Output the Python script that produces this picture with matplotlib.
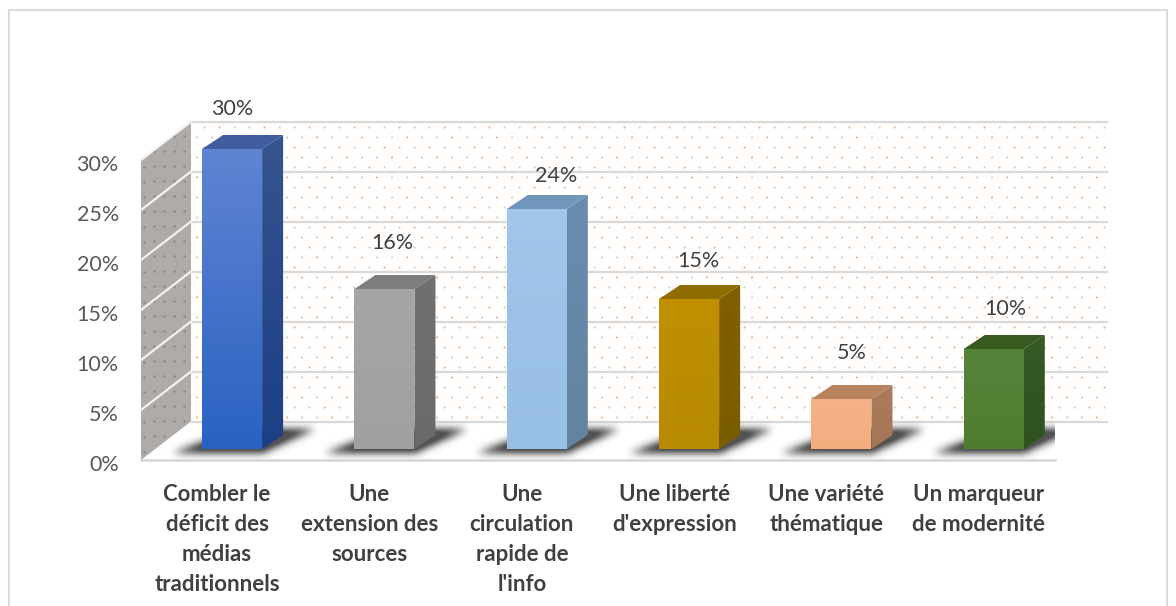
import numpy as np
import matplotlib
matplotlib.use('Agg')
import matplotlib.pyplot as plt
from matplotlib.colors import LinearSegmentedColormap
from matplotlib.patches import Polygon, Rectangle
from matplotlib.transforms import ScaledTranslation

# ---- data ----
categories = ["Combler le\ndéficit des\nmédias\ntraditionnels",
              "Une\nextension des\nsources",
              "Une\ncirculation\nrapide de\nl'info",
              "Une liberté\nd'expression",
              "Une variété\nthématique",
              "Un marqueur\nde modernité"]
values = [30, 16, 24, 15, 5, 10]
tick_values = [0, 5, 10, 15, 20, 25, 30]

# front / side / top colours per bar, (top of gradient, bottom of gradient)
front_colors = [('#5f84d2', '#2a62c2'), ('#a6a6a6', '#a0a0a0'), ('#a0c6ea', '#98bfe4'),
                ('#c09000', '#b88a00'), ('#f5b286', '#f3ae80'), ('#55833a', '#4f7d30')]
side_colors = [('#34558f', '#1c3f86'), ('#707070', '#6a6a6a'), ('#6a8cb0', '#62849f'),
               ('#806000', '#7a5c00'), ('#aa7c5c', '#a67656'), ('#355a24', '#2f5220')]
top_colors = ['#3f5d9f', '#7d7d7d', '#7196bb', '#8f6c00', '#b8845f', '#38591f']
# nudges of the value labels, in data units, from the centre of the bar top
label_dx = [-0.07, -0.02, 0.055, -0.01, 0.0, 0.01]
label_dy = [2.6, 3.2, 1.9, 2.4, 3.2, 2.6]

# ---- 3D look, in data units ----
WALL_DX = 0.328
WALL_DY = 3.85
BAR_W = 0.394
BAR_X = 0.098
BAR_BASE = 1.1
BAR_DX = 0.138
BAR_DY = 1.4
YMAX = 38  # room above the 30% tick for the 3D top of the tallest bar
FONT = ['Lato', 'DejaVu Sans']

fig = plt.figure(figsize=(11.76, 6.06), dpi=100)
ax = fig.add_axes([141 / 1176, 1 - 460 / 606, 914 / 1176, YMAX * 10 / 606])

# outer frame of the picture
fig.add_artist(Rectangle((9 / 1176, -0.02), 1158 / 1176, 1 - 10 / 606 + 0.02, transform=fig.transFigure,
                         fill=False, edgecolor='#dcdcdc', linewidth=1.5))

x0, x1 = -0.5, 5.5
bx0, bx1 = x0 + WALL_DX, x1 + 0.341

# back wall, floor, left wall
ax.add_patch(Polygon([(bx0, WALL_DY), (bx1, WALL_DY), (bx1, 30 + WALL_DY - 0.15), (bx0, 30 + WALL_DY - 0.15)],
                     facecolor='#fffefc', edgecolor='none', zorder=1, clip_on=False))
ax.add_patch(Polygon([(x0, 0), (x1, 0), (bx1, WALL_DY), (bx0, WALL_DY)],
                     facecolor='white', edgecolor='none', zorder=1, clip_on=False))
ax.add_patch(Polygon([(x0, 0), (bx0, WALL_DY), (bx0, 30 + WALL_DY - 0.15), (x0, 30)],
                     facecolor='#aeaba8', edgecolor='none', zorder=2, clip_on=False))

# dotted pattern on the two walls
step_x = 15 / (914 / 6)
wall_xs, wall_ys = [], []
for row, y in enumerate(np.arange(WALL_DY + 0.4, 30 + WALL_DY, 1.0)):
    for x in np.arange(bx0 + 0.04 + (row % 2) * step_x / 2, bx1, step_x):
        wall_xs.append(x)
        wall_ys.append(y)
dot_cols = np.where(np.arange(len(wall_xs)) % 3 == 0, '#e9b48e', '#d2ccc6')
ax.scatter(wall_xs, wall_ys, s=2.4, c=dot_cols, linewidths=0, zorder=2, clip_on=False)
side_xs, side_ys = [], []
for col, frac in enumerate(np.arange(0.06, 1.0, 0.2)):
    for y in np.arange(0.6 + (col % 2) * 0.75, 30, 1.5):
        side_xs.append(x0 + frac * WALL_DX)
        side_ys.append(y + frac * WALL_DY)
ax.scatter(side_xs, side_ys, s=3, c='#8b8680', linewidths=0, zorder=3, clip_on=False)

# gridlines, grey on the back wall and white on the side wall
for t in tick_values:
    c = '#d9d9d9'
    if t > 0:
        ax.plot([x0, bx0], [t, t + WALL_DY], color='#f2f2f2', lw=1.6, zorder=3, clip_on=False)
    ax.plot([bx0, bx1], [t + WALL_DY, t + WALL_DY], color=c, lw=1.6, zorder=2, clip_on=False)
ax.plot([x0, x1], [0, 0], color='#d9d9d9', lw=2, zorder=3, clip_on=False)


def gradient_patch(pts, cols, z):
    # vertical gradient clipped to a polygon
    pts = np.array(pts)
    cmap = LinearSegmentedColormap.from_list('g', [cols[1], cols[0]])
    grad = np.linspace(0, 1, 64).reshape(-1, 1)
    im = ax.imshow(grad, origin='lower', aspect='auto', cmap=cmap, zorder=z,
                   extent=(pts[:, 0].min(), pts[:, 0].max(), pts[:, 1].min(), pts[:, 1].max()))
    poly = Polygon(pts, transform=ax.transData, facecolor='none', edgecolor='none', clip_on=False)
    ax.add_patch(poly)
    im.set_clip_path(poly)


def soft_shadow(left, right, y_low, y_high, z):
    # blurred parallelogram on the floor, as an RGBA image
    ext = (left - 0.45, right + 0.65, 0.1, y_high + 1.2)
    nx, ny = int((ext[1] - ext[0]) * 152), int((ext[3] - ext[2]) * 10)
    xs, ys = np.meshgrid(np.linspace(ext[0], ext[1], nx), np.linspace(ext[2], ext[3], ny))
    h = (ys - y_low) / (y_high - y_low)
    edge_l = left - 0.2 + h * 0.42
    edge_r = right + h * 0.34
    mask = ((h >= 0) & (h <= 1) & (xs >= edge_l) & (xs <= edge_r)).astype(float)
    kx = np.exp(-0.5 * (np.arange(-12, 13) / 4.0) ** 2)
    kx /= kx.sum()
    mask = np.apply_along_axis(lambda r: np.convolve(r, kx, mode='same'), 1, mask)
    mask = np.apply_along_axis(lambda r: np.convolve(r, kx, mode='same'), 0, mask)
    rgba = np.zeros((ny, nx, 4))
    rgba[..., :3] = 0.25
    rgba[..., 3] = np.clip(mask * 1.15, 0, 0.9)
    ax.imshow(rgba, origin='lower', aspect='auto', extent=ext, zorder=z)


for i, v in enumerate(values):
    left = i + BAR_X - BAR_W / 2
    right = left + BAR_W
    base = BAR_BASE
    top = v + BAR_BASE

    soft_shadow(left, right, base - 0.45, base + 2.0, 4)

    gradient_patch([(left, base), (right, base), (right, top), (left, top)], front_colors[i], 6)
    gradient_patch([(right, base), (right + BAR_DX, base + BAR_DY), (right + BAR_DX, top + BAR_DY), (right, top)],
                   side_colors[i], 5)
    ax.add_patch(Polygon([(left, top), (right, top), (right + BAR_DX, top + BAR_DY), (left + BAR_DX, top + BAR_DY)],
                         facecolor=top_colors[i], edgecolor='none', zorder=6, clip_on=False))

    ax.text(i + BAR_X + BAR_DX / 2 + label_dx[i], top + BAR_DY + label_dy[i], f"{v}%", ha='center', va='center',
            fontsize=15.5, color='#404040', family=FONT, zorder=8, clip_on=False)

ax.set_xlim(-0.5, 5.5)
ax.set_ylim(0, YMAX)
ax.set_xticks(range(len(categories)))
ax.set_xticklabels(categories, fontsize=16, fontweight='bold', color='#404040', family=FONT, linespacing=1.53)
ax.set_yticks(tick_values)
ax.set_yticklabels([f"{t}%" for t in tick_values], fontsize=15.5, color='#595959', family=FONT)
ax.tick_params(axis='both', length=0)
ax.tick_params(axis='x', pad=17)
ax.tick_params(axis='y', pad=16)
for lab in ax.get_yticklabels():
    lab.set_transform(lab.get_transform() + ScaledTranslation(0, -2 / 72, fig.dpi_scale_trans))
ax.patch.set_visible(False)
for s in ax.spines.values():
    s.set_visible(False)

fig.savefig('out.png', dpi=100)
